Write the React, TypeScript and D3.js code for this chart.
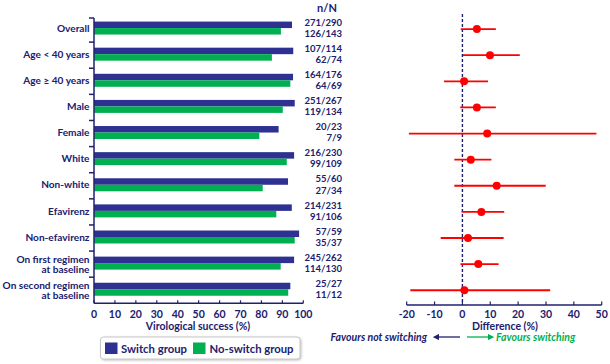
import React from "react";
import * as d3 from "d3";

const categories = [
  "Overall",
  "Age < 40 years",
  "Age ≥ 40 years",
  "Male",
  "Female",
  "White",
  "Non-white",
  "Efavirenz",
  "Non-efavirenz",
  "On first regimen|at baseline",
  "On second regimen|at baseline",
];
const switchPct = [94.6, 95.2, 95.1, 95.9, 88.2, 95.6, 92.7, 94.5, 98.0, 95.6, 93.8];
const noSwitchPct = [89.3, 85.0, 93.8, 90.2, 79.0, 92.1, 80.6, 87.1, 95.9, 89.2, 92.8];
const switchN = ["271/290", "107/114", "164/176", "251/267", "20/23", "216/230", "55/60", "214/231", "57/59", "245/262", "25/27"];
const noSwitchN = ["126/143", "62/74", "64/69", "119/134", "7/9", "99/109", "27/34", "91/106", "35/37", "114/130", "11/12"];
const diff = [5.2, 9.9, 0.6, 5.2, 8.9, 3.0, 12.3, 6.8, 2.0, 5.7, 0.7];
const ciLow = [-0.6, 0.2, -6.6, -0.8, -19.2, -2.9, -2.9, -0.3, -7.8, -0.7, -18.7];
const ciHigh = [12.0, 20.6, 9.2, 12.0, 48.1, 10.4, 29.9, 15.0, 14.8, 13.0, 31.5];
const barTicks = [0, 10, 20, 30, 40, 50, 60, 70, 80, 90, 100];
const diffTicks = [-20, -10, 0, 10, 20, 30, 40, 50];

const NAVY = "#20206e";
const BLUE = "#2e3192";
const GREEN = "#00b050";
const RED = "#ff0000";
const FONT = "Lato, 'Open Sans', sans-serif";

export default function App() {
  const y = d3.scaleBand<number>().domain(d3.range(categories.length)).range([16, 303.3]);
  const xb = d3.scaleLinear().domain([0, 100]).range([94, 303.3]);
  const xf = d3.scaleLinear().domain([-20, 50]).range([406.7, 601.7]);
  const bw = y.bandwidth();
  const c = (i: number) => (y(i) as number) + bw / 2;
  const axisY = 303.3;
  const fAxisY = 305;

  return (
    <svg width={610} height={364} style={{ position: "absolute", left: 0, top: 0, background: "#fff" }} fontFamily={FONT}>
      <defs>
        <marker id="ab" viewBox="0 0 10 10" refX="5" refY="5" markerWidth="5" markerHeight="5" orient="auto-start-reverse">
          <path d="M0,0 L10,5 L0,10 z" fill={NAVY} />
        </marker>
        <marker id="ag" viewBox="0 0 10 10" refX="5" refY="5" markerWidth="5" markerHeight="5" orient="auto">
          <path d="M0,0 L10,5 L0,10 z" fill={GREEN} />
        </marker>
        <filter id="sh" x="-5%" y="-20%" width="110%" height="150%">
          <feDropShadow dx="1" dy="1" stdDeviation="0.8" floodColor="#999" floodOpacity="0.6" />
        </filter>
      </defs>

      {/* Bars */}
      {categories.map((_, i) => (
        <g key={"b" + i}>
          <rect x={xb(0)} y={c(i) - 7.5} width={xb(switchPct[i]) - xb(0)} height={6.5} fill={BLUE} />
          <rect x={xb(0)} y={c(i) - 1} width={xb(noSwitchPct[i]) - xb(0)} height={6.5} fill={GREEN} />
        </g>
      ))}

      {/* Left y axis */}
      <line x1={xb(0)} x2={xb(0)} y1={18} y2={axisY} stroke={NAVY} strokeWidth={1.5} />
      {categories.map((_, i) => (
        <line key={"yt" + i} x1={xb(0) - 5} x2={xb(0)} y1={i === 0 ? 18 : (y(i) as number)} y2={i === 0 ? 18 : (y(i) as number)} stroke={NAVY} strokeWidth={1.5} />
      ))}
      {categories.map((lab, i) => {
        const lines = lab.split("|");
        const ys = lines.length === 1 ? [c(i) - 1.3] : [c(i) - 5.5, c(i) + 5];
        return lines.map((ln, j) => (
          <text key={"cl" + i + j} x={89.5} y={ys[j]} textAnchor="end" dominantBaseline="central" fontSize={10.1} fontWeight="bold" fill={NAVY}>
            {ln}
          </text>
        ));
      })}

      {/* Bottom x axis (bars) */}
      <line x1={xb(0)} x2={xb(100)} y1={axisY} y2={axisY} stroke={NAVY} strokeWidth={1.5} />
      {barTicks.map((t) => (
        <g key={"bt" + t}>
          <line x1={xb(t)} x2={xb(t)} y1={axisY - 3} y2={axisY} stroke={NAVY} strokeWidth={1.2} />
          <text x={xb(t)} y={314} textAnchor="middle" dominantBaseline="central" fontSize={10.5} fontWeight="bold" fill={NAVY}>
            {t}
          </text>
        </g>
      ))}
      <text x={198} y={325.5} textAnchor="middle" dominantBaseline="central" fontSize={10.5} fontWeight="bold" fill={NAVY}>
        Virological success (%)
      </text>

      {/* n/N */}
      <text x={327} y={7} textAnchor="middle" dominantBaseline="central" fontSize={11} fontWeight="bold" fill={NAVY}>
        n/N
      </text>
      {categories.map((_, i) => (
        <g key={"n" + i}>
          <text x={342} y={c(i) - 6.8} textAnchor="end" dominantBaseline="central" fontSize={9.5} fontWeight="bold" fill={NAVY}>
            {switchN[i]}
          </text>
          <text x={342} y={c(i) + 4.3} textAnchor="end" dominantBaseline="central" fontSize={9.5} fontWeight="bold" fill={NAVY}>
            {noSwitchN[i]}
          </text>
        </g>
      ))}

      {/* Forest plot */}
      <line x1={xf(0)} x2={xf(0)} y1={14} y2={fAxisY} stroke={NAVY} strokeWidth={1.4} strokeDasharray="3,2" />
      {categories.map((_, i) => (
        <g key={"f" + i}>
          <line x1={xf(ciLow[i])} x2={xf(ciHigh[i])} y1={c(i)} y2={c(i)} stroke={RED} strokeWidth={1.8} />
          <circle cx={xf(diff[i])} cy={c(i)} r={4} fill={RED} />
        </g>
      ))}
      <line x1={xf(-20)} x2={xf(50)} y1={fAxisY} y2={fAxisY} stroke={NAVY} strokeWidth={1.5} />
      {diffTicks.map((t) => (
        <g key={"ft" + t}>
          <line x1={xf(t)} x2={xf(t)} y1={fAxisY - 3.5} y2={fAxisY} stroke={NAVY} strokeWidth={1.2} />
          <text x={xf(t)} y={314} textAnchor="middle" dominantBaseline="central" fontSize={10.5} fontWeight="bold" fill={NAVY}>
            {t}
          </text>
        </g>
      ))}
      <text x={505} y={326} textAnchor="middle" dominantBaseline="central" fontSize={10.5} fontWeight="bold" fill={NAVY}>
        Difference (%)
      </text>
      <text x={427} y={337} textAnchor="end" dominantBaseline="central" fontSize={10.5} fontWeight="bold" fontStyle="italic" fill={NAVY}>
        Favours not switching
      </text>
      <line x1={460} x2={436} y1={337} y2={337} stroke={NAVY} strokeWidth={1.3} markerEnd="url(#ab)" />
      <line x1={467} x2={491} y1={337} y2={337} stroke={GREEN} strokeWidth={1.3} markerEnd="url(#ag)" />
      <text x={496} y={337} textAnchor="start" dominantBaseline="central" fontSize={10.5} fontWeight="bold" fontStyle="italic" fill={GREEN}>
        Favours switching
      </text>

      {/* Legend */}
      <rect x={100.5} y={337} width={199.5} height={22} rx={3} fill="#fff" stroke="#c8c8c8" strokeWidth={1} filter="url(#sh)" />
      <rect x={105} y={342.5} width={12.5} height={11.5} fill={BLUE} />
      <text x={121} y={348.5} dominantBaseline="central" fontSize={11.3} fontWeight="bold" fill={NAVY} textLength={66} lengthAdjust="spacingAndGlyphs">
        Switch group
      </text>
      <rect x={193} y={342.5} width={12.5} height={11.5} fill={GREEN} />
      <text x={209.5} y={348.5} dominantBaseline="central" fontSize={11.3} fontWeight="bold" fill={NAVY} textLength={84} lengthAdjust="spacingAndGlyphs">
        No-switch group
      </text>
    </svg>
  );
}
